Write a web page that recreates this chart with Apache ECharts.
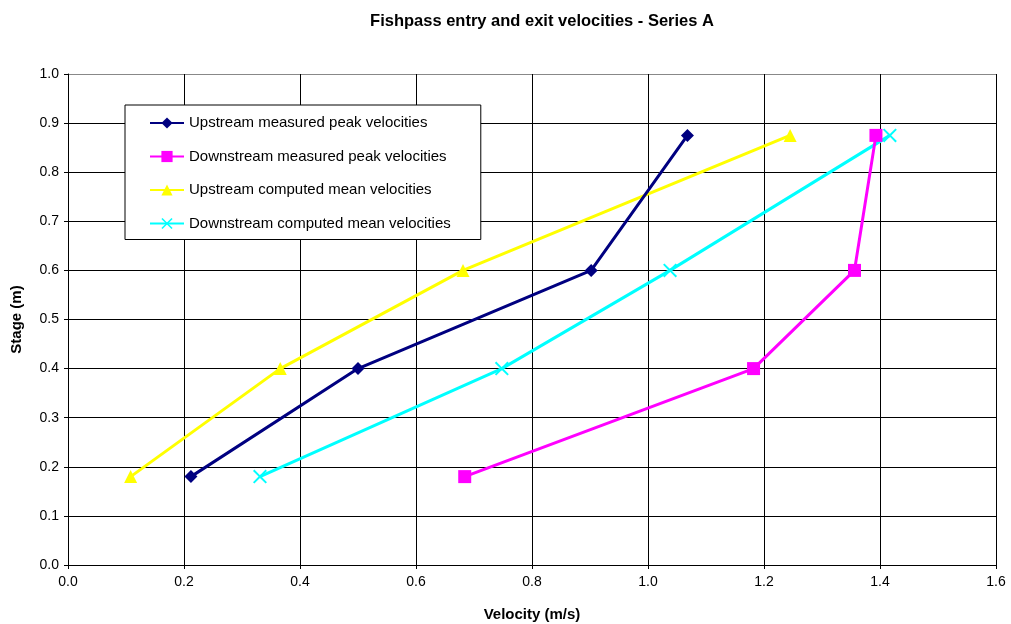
<!DOCTYPE html>
<html><head><meta charset="utf-8">
<script src="https://cdn.jsdelivr.net/npm/echarts@6/dist/echarts.min.js"></script>
<style>html,body{margin:0;padding:0;background:#fff}#c{width:1011px;height:624px}</style>
</head><body><div id="c"></div>
<script>
const stages = [0.18, 0.40, 0.60, 0.875];
const upMeasured = [0.212, 0.50, 0.902, 1.068];
const downMeasured = [0.684, 1.182, 1.356, 1.393];
const upComputed = [0.108, 0.366, 0.681, 1.245];
const downComputed = [0.331, 0.748, 1.038, 1.417];
const seriesNames = ['Upstream measured peak velocities','Downstream measured peak velocities','Upstream computed mean velocities','Downstream computed mean velocities'];
const colors = ['#000080','#ff00ff','#ffff00','#00ffff'];
const xPath = 'path://M0,1 L1,0 L5,4 L9,0 L10,1 L6,5 L10,9 L9,10 L5,6 L1,10 L0,9 L4,5 Z';
const symbols = ['diamond','rect','triangle',xPath];
const sizes = [13,13,13,14];
const vals = [upMeasured, downMeasured, upComputed, downComputed];
const font = 'Liberation Sans, Arial, sans-serif';
const chart = echarts.init(document.getElementById('c'));
chart.setOption({
  animation:false,
  backgroundColor:'#fff',
  title:{text:'Fishpass entry and exit velocities - Series A',left:537,textAlign:'center',top:8,
    textStyle:{fontFamily:font,fontSize:16.5,fontWeight:'bold',color:'#000'}},
  grid:{left:68,right:15,top:74,bottom:59,containLabel:false,outerBoundsMode:'none'},
  legend:{orient:'vertical',left:125,top:105,backgroundColor:'#fff',borderColor:'#000',borderWidth:1,
    padding:[10,30,8,24],itemGap:17.5,itemWidth:34,itemHeight:14,
    textStyle:{fontFamily:font,fontSize:15,lineHeight:16,color:'#000'},
    data:seriesNames},
  xAxis:{type:'value',min:0,max:1.6,interval:0.2,name:'Velocity (m/s)',nameLocation:'middle',nameGap:42,
    nameTextStyle:{fontFamily:font,fontSize:15,fontWeight:'bold',color:'#000'},
    axisLine:{onZero:false,lineStyle:{color:'#000',width:1}},axisTick:{show:true,length:4,lineStyle:{color:'#000'}},
    axisLabel:{fontFamily:font,fontSize:14,color:'#000',margin:10,formatter:v=>v.toFixed(1)},
    splitLine:{show:true,lineStyle:{color:'#000',width:1}}},
  yAxis:{type:'value',min:0,max:1.0,interval:0.1,name:'Stage (m)',nameLocation:'middle',nameGap:44,nameRotate:90,
    nameTextStyle:{fontFamily:font,fontSize:15,fontWeight:'bold',color:'#000'},
    axisLine:{onZero:false,lineStyle:{color:'#000',width:1}},axisTick:{show:true,length:4,lineStyle:{color:'#000'}},
    axisLabel:{fontFamily:font,fontSize:14,color:'#000',margin:9,formatter:v=>v.toFixed(1)},
    splitLine:{show:true,lineStyle:{color:['#000','#000','#000','#000','#000','#000','#000','#000','#000','#000','#888'],width:1}}},
  series: seriesNames.map((n,i)=>({
    name:n,type:'line',data:vals[i].map((v,j)=>[v,stages[j]]),
    symbol:symbols[i],symbolSize:sizes[i],showSymbol:true,
    lineStyle:{color:colors[i],width:3},itemStyle:{color:colors[i],borderWidth:0},
    z:10-i
  }))
});
</script></body></html>
